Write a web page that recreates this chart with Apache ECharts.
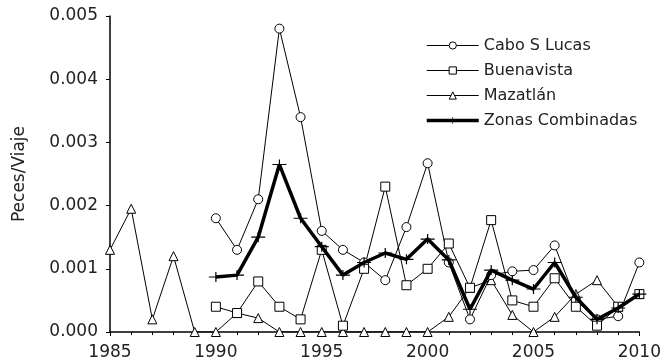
<!DOCTYPE html>
<html>
<head>
<meta charset="utf-8">
<script src="https://cdn.jsdelivr.net/npm/echarts@6/dist/echarts.min.js"></script>
<style>
  html, body { margin: 0; padding: 0; background: #fff; }
  #chart { width: 664px; height: 364px; }
</style>
</head>
<body>
<div id="chart"></div>
<script>
// years on the x axis
const years = [1985, 1986, 1987, 1988, 1989, 1990, 1991, 1992, 1993, 1994, 1995, 1996, 1997,
               1998, 1999, 2000, 2001, 2002, 2003, 2004, 2005, 2006, 2007, 2008, 2009, 2010];

// Peces/Viaje per zone (null = no data)
const caboSLucas = [null, null, null, null, null, 0.0018, 0.0013, 0.0021, 0.0048, 0.0034, 0.0016, 0.0013, 0.0011,
                    0.00082, 0.00166, 0.00267, 0.0011, 0.0002, 0.0009, 0.00096, 0.00098, 0.00137, 0.0005, 0.0002, 0.00025, 0.0011];
const buenavista = [null, null, null, null, null, 0.0004, 0.0003, 0.0008, 0.0004, 0.0002, 0.0013, 0.0001, 0.001,
                    0.0023, 0.00074, 0.001, 0.0014, 0.0007, 0.00177, 0.0005, 0.0004, 0.00085, 0.0004, 0.0001, 0.0004, 0.0006];
const mazatlan = [0.0013, 0.00195, 0.0002, 0.0012, 0, 0, 0.0003, 0.00022, 0, 0, 0, 0, 0,
                  0, 0, 0, 0.00024, 0.0007, 0.00082, 0.00027, 0, 0.00024, 0.0006, 0.00082, 0.0004, 0.0006];
const combinadas = [null, null, null, null, null, 0.00087, 0.0009, 0.0015, 0.00265, 0.0018, 0.00135, 0.0009, 0.0011,
                    0.00125, 0.00115, 0.00147, 0.00114, 0.00036, 0.00098, 0.00082, 0.00068, 0.0011, 0.00055, 0.0002, 0.00038, 0.0006];

const yTicks = [0, 0.001, 0.002, 0.003, 0.004, 0.005];

function pairs(vals) {
    return years.map((y, i) => [y, vals[i]]).filter(p => p[1] !== null);
}

const font = 'DejaVu Sans';
const plus = 'path://M0,4.4 H14 V5.6 H0 Z M6.4,0 H7.6 V10 H6.4 Z';

const chart = echarts.init(document.getElementById('chart'));

const thin = { color: '#000', width: 1 };
const hollow = { color: '#fff', borderColor: '#000', borderWidth: 1 };

const option = {
    backgroundColor: '#fff',
    animation: false,
    grid: { left: 110, right: 24, top: 16, bottom: 32 },
    legend: {
        left: 420,
        top: 32,
        orient: 'vertical',
        itemWidth: 52,
        itemHeight: 9,
        itemGap: 8,
        textStyle: { fontFamily: font, fontSize: 16, color: '#222', lineHeight: 17 },
        data: [
            { name: 'Cabo S Lucas', lineStyle: { width: 1 }, itemStyle: { borderWidth: 1 } },
            { name: 'Buenavista', lineStyle: { width: 1 }, itemStyle: { borderWidth: 1 } },
            { name: 'Mazatlán', lineStyle: { width: 1 }, itemStyle: { borderWidth: 1 } },
            { name: 'Zonas Combinadas', lineStyle: { width: 3.5 } }
        ]
    },
    xAxis: {
        type: 'value',
        min: 1985,
        max: 2010,
        interval: 5,
        splitLine: { show: false },
        axisLine: { lineStyle: { color: '#000', width: 1.5 } },
        axisTick: { length: 4, lineStyle: { color: '#000' } },
        minorTick: { show: true, splitNumber: 5, length: 3, lineStyle: { color: '#000' } },
        axisLabel: {
            fontFamily: font, fontSize: 17, color: '#222', margin: 12,
            formatter: v => String(v)
        }
    },
    yAxis: {
        type: 'value',
        min: yTicks[0],
        max: yTicks[yTicks.length - 1],
        interval: 0.001,
        name: 'Peces/Viaje',
        nameLocation: 'middle',
        nameGap: 82,
        nameTextStyle: { fontFamily: font, fontSize: 17, color: '#222' },
        splitLine: { show: false },
        axisLine: { show: true, lineStyle: { color: '#000', width: 1.5 } },
        axisTick: { show: true, length: 4, lineStyle: { color: '#000' } },
        axisLabel: {
            fontFamily: font, fontSize: 17, color: '#222', margin: 12,
            formatter: v => v.toFixed(3)
        }
    },
    series: [
        {
            name: 'Cabo S Lucas', type: 'line', data: pairs(caboSLucas),
            symbol: 'circle', symbolSize: 9,
            lineStyle: thin, itemStyle: hollow, z: 3
        },
        {
            name: 'Buenavista', type: 'line', data: pairs(buenavista),
            symbol: 'rect', symbolSize: 9,
            lineStyle: thin, itemStyle: hollow, z: 3
        },
        {
            name: 'Mazatlán', type: 'line', data: pairs(mazatlan),
            symbol: 'triangle', symbolSize: 9,
            lineStyle: thin, itemStyle: hollow, z: 2
        },
        {
            name: 'Zonas Combinadas', type: 'line', data: pairs(combinadas),
            symbol: plus, symbolSize: [14, 10], symbolKeepAspect: false,
            lineStyle: { color: '#000', width: 3.5 },
            itemStyle: { color: '#000' }, z: 4
        }
    ]
};

chart.setOption(option);
</script>
</body>
</html>
